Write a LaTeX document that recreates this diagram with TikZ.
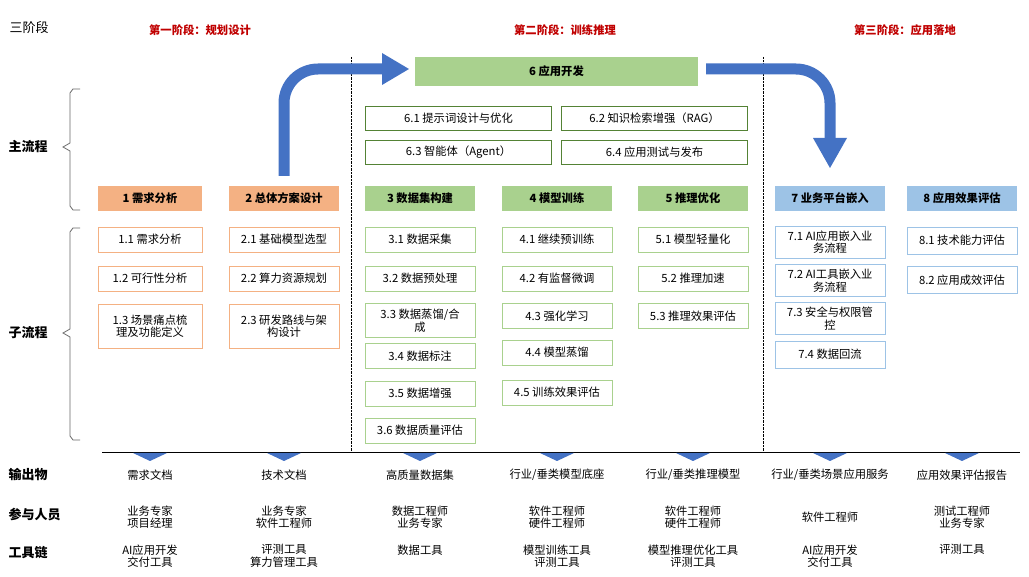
\documentclass[tikz,border=0pt]{standalone}
\usepackage{fontspec}
\setmainfont{Noto Sans CJK SC}
\usetikzlibrary{positioning}
\definecolor{orangefill}{HTML}{F4B183}
\definecolor{greenfill}{HTML}{A9D18E}
\definecolor{bluefill}{HTML}{9DC3E6}
\definecolor{darkgreen}{HTML}{548235}
\definecolor{arrowblue}{HTML}{4472C4}
\definecolor{phasered}{HTML}{C00000}
\begin{document}
\begin{tikzpicture}[x=1pt, y=-1pt,
    font=\fontsize{11.3}{12.5}\selectfont,
    head/.style={rectangle, minimum width=104pt, minimum height=25pt, align=center, font=\fontsize{11.3}{12.5}\selectfont\bfseries},
    sub/.style={rectangle, draw, fill=white, minimum width=104pt, minimum height=25pt, align=center, inner sep=1pt},
    app/.style={rectangle, draw=darkgreen, fill=white, minimum width=186pt, minimum height=24pt, align=center},
    bigarrow/.style={draw=arrowblue, line width=11pt, rounded corners=34pt},
    rowlabel/.style={font=\fontsize{13}{15}\selectfont\bfseries, anchor=west},
    cell/.style={align=center},
    phase/.style={text=phasered, font=\fontsize{11.3}{12.5}\selectfont\bfseries}
]
    \useasboundingbox (0,0) rectangle (1029,577);

    % Left labels
    \node[rowlabel, font=\fontsize{13}{15}\selectfont] (l0) at (6,28) {三阶段};
    \node[rowlabel] (l1) at (5,147) {主流程};
    \node[rowlabel] (l2) at (5,333) {子流程};
    \node[rowlabel] (l3) at (5,475) {输出物};
    \node[rowlabel] (l4) at (5,515) {参与人员};
    \node[rowlabel] (l5) at (5,553) {工具链};
    \draw[gray!80!black, thick] (80,89) -- (73,89) -- (70,93) -- (70,143) -- (63,147) -- (70,151) -- (70,206) -- (73,210) -- (80,210);
    \draw[gray!80!black, thick] (80,228) -- (73,228) -- (70,232) -- (70,329) -- (63,333) -- (70,337) -- (70,436) -- (73,440) -- (80,440);

    % Phases
    \node[phase] (p1) at (200,30) {第一阶段：规划设计};
    \node[phase] (p2) at (565,30) {第二阶段：训练推理};
    \node[phase] (p3) at (905,30) {第三阶段：应用落地};
    \draw[densely dotted] (351,57) -- (351,452);
    \draw[densely dotted] (763,57) -- (763,452);

    % Main flow
    \node[head, fill=orangefill] (h1) at (150,198.5) {1 需求分析};
    \node[head, fill=orangefill, minimum width=110pt] (h2) at (284,198.5) {2 总体方案设计};
    \node[head, fill=greenfill, minimum width=110pt] (h3) at (420,198.5) {3 数据集构建};
    \node[head, fill=greenfill, minimum width=110pt] (h4) at (557,198.5) {4 模型训练};
    \node[head, fill=greenfill, minimum width=110pt] (h5) at (693,198.5) {5 推理优化};
    \node[head, fill=bluefill, minimum width=110pt] (h7) at (830,198.5) {7 业务平台嵌入};
    \node[head, fill=bluefill, minimum width=110pt] (h8) at (962,198.5) {8 应用效果评估};
    \node[head, fill=greenfill, minimum width=283pt, minimum height=29pt] (h6) at (556.5,71.5) {6 应用开发};
    \node[app] (a61) at (458.5,118) {6.1 提示词设计与优化};
    \node[app] (a62) at (654.5,118) {6.2 知识检索增强（RAG）};
    \node[app] (a63) at (458.5,152) {6.3 智能体（Agent）};
    \node[app] (a64) at (654.5,152) {6.4 应用测试与发布};

    % Big arrows
    \coordinate (e1) at (384,69);
    \coordinate (s2) at (706,69);
    \coordinate (e2) at (830,140);
    \draw[bigarrow] ([yshift=10pt]h2.north) |- (e1);
    \fill[arrowblue] (382,53) -- (409,69) -- (382,85) -- cycle;
    \draw[bigarrow] (s2) -| (e2);
    \fill[arrowblue] (813,138) -- (830,168) -- (847,138) -- cycle;

    % Sub flow
    \tikzset{o/.style={sub, draw=orangefill}, g/.style={sub, draw=greenfill, minimum width=110pt}, b/.style={sub, draw=bluefill, minimum width=110pt}}
    \node[o] (s11) at (150,239.5) {1.1 需求分析};
    \node[o] (s12) at (150,278.5) {1.2 可行性分析};
    \node[o, minimum height=44pt] (s13) at (150,326) {1.3 场景痛点梳\\理及功能定义};
    \node[o, minimum width=110pt] (s21) at (284,239.5) {2.1 基础模型选型};
    \node[o, minimum width=110pt] (s22) at (284,278.5) {2.2 算力资源规划};
    \node[o, minimum width=110pt, minimum height=44pt] (s23) at (284,326) {2.3 研发路线与架\\构设计};
    \node[g] (s31) at (420,239.5) {3.1 数据采集};
    \node[g] (s32) at (420,278.5) {3.2 数据预处理};
    \node[g, minimum height=34pt] (s33) at (420,320.5) {3.3 数据蒸馏/合\\成};
    \node[g] (s34) at (420,356) {3.4 数据标注};
    \node[g] (s35) at (420,393.5) {3.5 数据增强};
    \node[g] (s36) at (420,430.5) {3.6 数据质量评估};
    \node[g] (s41) at (557,239.5) {4.1 继续预训练};
    \node[g] (s42) at (557,278.5) {4.2 有监督微调};
    \node[g] (s43) at (557,316) {4.3 强化学习};
    \node[g] (s44) at (557,352.5) {4.4 模型蒸馏};
    \node[g] (s45) at (557,392.5) {4.5 训练效果评估};
    \node[g] (s51) at (693,239.5) {5.1 模型轻量化};
    \node[g] (s52) at (693,278.5) {5.2 推理加速};
    \node[g] (s53) at (693,316) {5.3 推理效果评估};
    \node[b, minimum height=32pt] (s71) at (830,242) {7.1 AI应用嵌入业\\务流程};
    \node[b, minimum height=32pt] (s72) at (830,280.5) {7.2 AI工具嵌入业\\务流程};
    \node[b, minimum height=32pt] (s73) at (830,318.5) {7.3 安全与权限管\\控};
    \node[b, minimum height=27pt] (s74) at (830,354.5) {7.4 数据回流};
    \node[b, minimum height=27pt] (s81) at (962,240.5) {8.1 技术能力评估};
    \node[b, minimum height=27pt] (s82) at (962,280) {8.2 应用成效评估};

    % Outputs
    \coordinate (rl) at (102,452);
    \coordinate (rr) at (1020,452);
    \draw[thick] (rl) -- (rr);
    \foreach \x in {150,284,420,557,693,830,962}
        \fill[arrowblue] (\x-17,453) -- (\x+17,453) -- (\x,461) -- cycle;
    \foreach \x/\o/\p/\t [count=\i] in {
        150/需求文档/业务专家\\项目经理/AI应用开发\\交付工具,
        284/技术文档/业务专家\\软件工程师/评测工具\\算力管理工具,
        420/高质量数据集/数据工程师\\业务专家/数据工具,
        557/{行业/垂类模型底座}/软件工程师\\硬件工程师/模型训练工具\\评测工具,
        693/{行业/垂类推理模型}/软件工程师\\硬件工程师/模型推理优化工具\\评测工具,
        830/{行业/垂类场景应用服务}/软件工程师/AI应用开发\\交付工具,
        962/应用效果评估报告/测试工程师\\业务专家/评测工具}
    {
        \node[cell] (o\i) at (\x,475) {\o};
        \node[cell] (q\i) at (\x,517) {\p};
        \node[cell, anchor=north] (t\i) at (\x,541) {\t};
    }
\end{tikzpicture}
\end{document}
